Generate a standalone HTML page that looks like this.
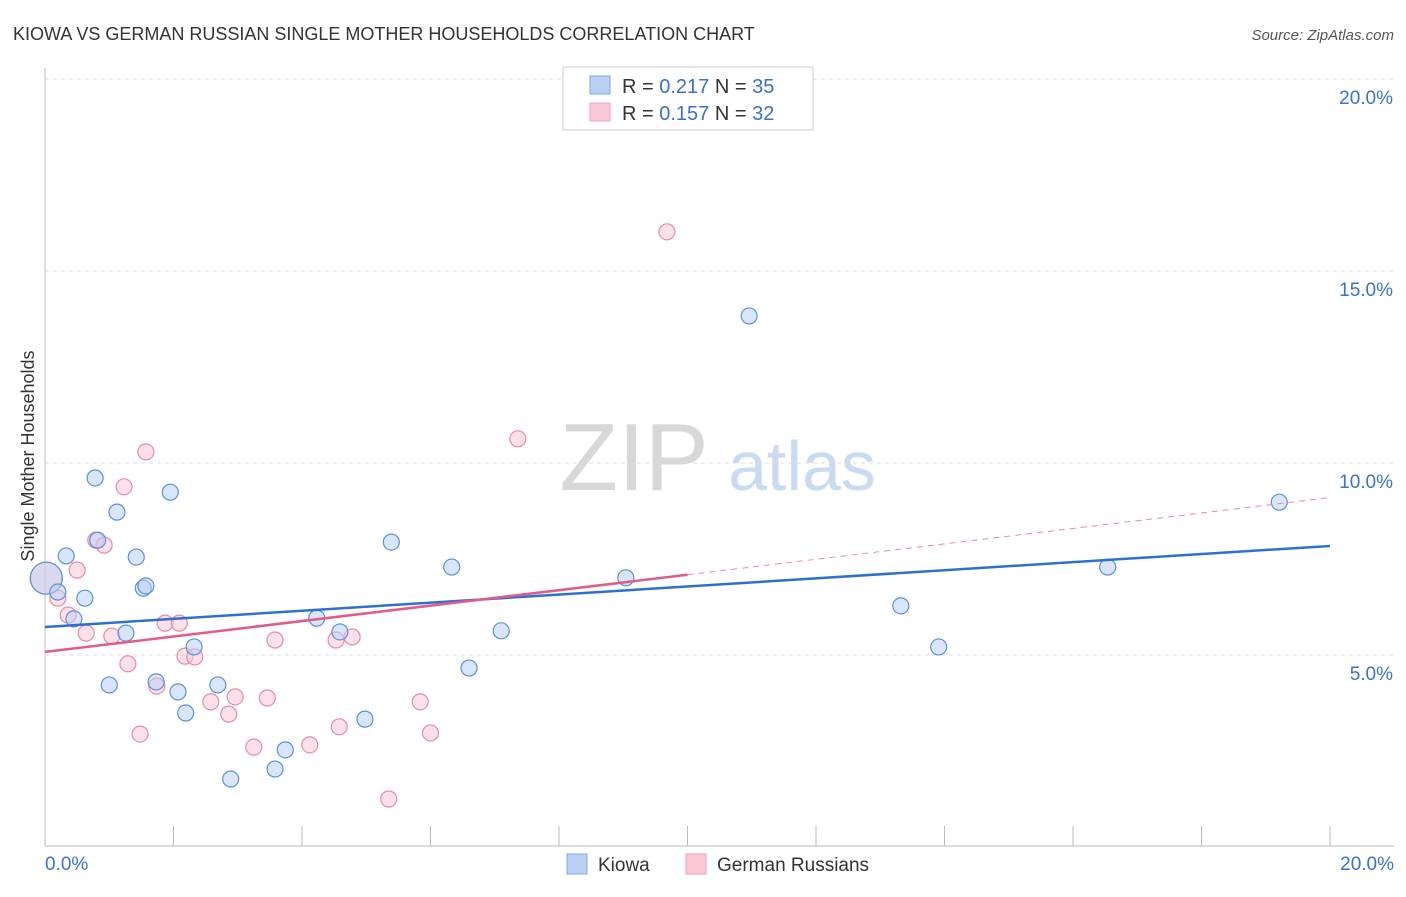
<!DOCTYPE html>
<html><head><meta charset="utf-8"><style>
body{margin:0;background:#fff;font-family:"Liberation Sans",sans-serif}
svg text{font-family:"Liberation Sans",sans-serif}
</style></head><body>
<svg id="c" width="1406" height="892" viewBox="0 0 1406 892">
<text x="13" y="40" font-size="18" fill="#333">KIOWA VS GERMAN RUSSIAN SINGLE MOTHER HOUSEHOLDS CORRELATION CHART</text>
<text x="1394" y="40" font-size="15" fill="#555" font-style="italic" text-anchor="end">Source: ZipAtlas.com</text>
<text x="34" y="456" font-size="18" fill="#333" text-anchor="middle" transform="rotate(-90 34 456)">Single Mother Households</text>
<g><text x="634" y="490" font-size="96" font-family="Liberation Serif" fill="#d8d8d8" text-anchor="middle">ZIP</text><text x="802" y="490" font-size="70" fill="#c9daf2" text-anchor="middle">atlas</text></g>
<g id="grid"></g><g id="marks"></g>
<g>
<rect x="563" y="67" width="250" height="63" fill="#fff" stroke="#ccc"/>
<rect x="590" y="76" width="20" height="18" fill="#b9d2f4" stroke="#7fa8e4"/>
<rect x="590" y="103" width="20" height="18" fill="#fac8d7" stroke="#eda2b8"/>
<text x="622" y="93" font-size="20" fill="#333">R = <tspan fill="#3a70d0">0.217</tspan>   N = <tspan fill="#3a70d0">35</tspan></text>
<text x="622" y="120" font-size="20" fill="#333">R = <tspan fill="#3a70d0">0.157</tspan>   N = <tspan fill="#3a70d0">32</tspan></text>
</g>
<g>
<rect x="567" y="854" width="20" height="20" fill="#b9d2f4" stroke="#7fa8e4"/>
<text x="598" y="871" font-size="19" fill="#333">Kiowa</text>
<rect x="686" y="854" width="20" height="20" fill="#fac8d7" stroke="#eda2b8"/>
<text x="717" y="871" font-size="19" fill="#333">German Russians</text>
</g>
</svg>
<script>
const yTicks=[5,10,15,20];
const xTickLabels=["0.0%","20.0%"];
const kiowaX=[0.02,0.2,0.33,0.62,0.45,0.78,1.12,0.82,1.42,1.53,1.57,1.95,1.26,1.0,1.73,2.07,2.19,2.32,2.69,2.89,3.58,3.74,4.23,4.59,4.98,5.39,6.33,6.6,7.1,9.04,10.96,13.32,13.91,16.54,19.21];
const kiowaY=[7.0,6.64,7.58,6.48,5.94,9.61,8.72,7.99,7.55,6.74,6.8,9.24,5.57,4.22,4.3,4.04,3.49,5.21,4.22,1.77,2.03,2.53,5.96,5.6,3.33,7.94,7.29,4.66,5.63,7.01,13.83,6.28,5.21,7.29,8.98];
const grX=[0.02,0.2,0.36,0.5,0.64,0.79,0.92,1.04,1.23,1.29,1.48,1.57,1.74,1.87,2.09,2.18,2.33,2.58,2.86,2.96,3.25,3.46,3.58,4.12,4.53,4.58,4.78,5.35,5.84,6.0,7.36,9.68];
const grY=[7.0,6.48,6.04,7.21,5.57,7.99,7.86,5.49,9.38,4.77,2.94,10.29,4.19,5.83,5.83,4.97,4.95,3.78,3.46,3.91,2.6,3.88,5.39,2.66,5.39,3.13,5.47,1.25,3.78,2.97,10.63,16.02];
const kiowaTrend=[5.73,7.84];
const grTrend=[5.08,9.1];
const grSolidEnd=10;
const NS="http://www.w3.org/2000/svg";
const X=v=>45+v*1285/20, Y=v=>847-v*192/5;
const grid=document.getElementById('grid'), marks=document.getElementById('marks');
function mk(tag,attrs,parent){const e=document.createElementNS(NS,tag);for(const k in attrs)e.setAttribute(k,attrs[k]);parent.appendChild(e);return e;}
let a=mk('line',{x1:45,y1:68,x2:45,y2:846,stroke:'#bbb'},grid);


a=mk('line',{x1:45,y1:846,x2:1394,y2:846,stroke:'#bbb'},grid);


yTicks.forEach(t=>{
 const g=mk('line',{x1:45,y1:Y(t),x2:1394,y2:Y(t),stroke:'#ddd','stroke-dasharray':'4,4'},grid);
 
 
 const tx=mk('text',{x:1393,y:Y(t)+25,'font-size':19,fill:'#3a70d0','text-anchor':'end'},grid);
 tx.textContent=t.toFixed(1)+'%';
 
 
});
for(let i=0;i<=10;i++){
 const t=mk('line',{x1:X(i*2),y1:826,x2:X(i*2),y2:846,stroke:'#bbb'},grid);
 
 
}
[[45,'start',0],[1394,'end',1]].forEach(([x,an,i])=>{
 const tx=mk('text',{x:x,y:870,'font-size':19,fill:'#3a70d0','text-anchor':an},grid);
 tx.textContent=xTickLabels[i];
 
 
});
function pts(xs,ys,fill,stroke,name){
 xs.forEach((x,i)=>{
  const c=mk('circle',{cx:X(x),cy:Y(ys[i]),r:i===0?16:8,fill:fill,'fill-opacity':0.55,stroke:stroke,'stroke-width':1.2},marks);
  
  
 });
}
pts(grX,grY,'#fac8d7','#e98aa9','point-german-russians');
pts(kiowaX,kiowaY,'#b9d2f4','#5b8fe0','point-kiowa');
const gy=x=>grTrend[0]+(grTrend[1]-grTrend[0])*x/20;
let l=mk('line',{x1:X(grSolidEnd),y1:Y(gy(grSolidEnd)),x2:X(20),y2:Y(gy(20)),stroke:'#e98aa9','stroke-width':1,'stroke-dasharray':'6,5'},marks);


l=mk('line',{x1:X(0),y1:Y(kiowaTrend[0]),x2:X(20),y2:Y(kiowaTrend[1]),stroke:'#2d6fd6','stroke-width':2.5},marks);


l=mk('line',{x1:X(0),y1:Y(gy(0)),x2:X(grSolidEnd),y2:Y(gy(grSolidEnd)),stroke:'#e25c8a','stroke-width':2.5},marks);


</script>
</body></html>
